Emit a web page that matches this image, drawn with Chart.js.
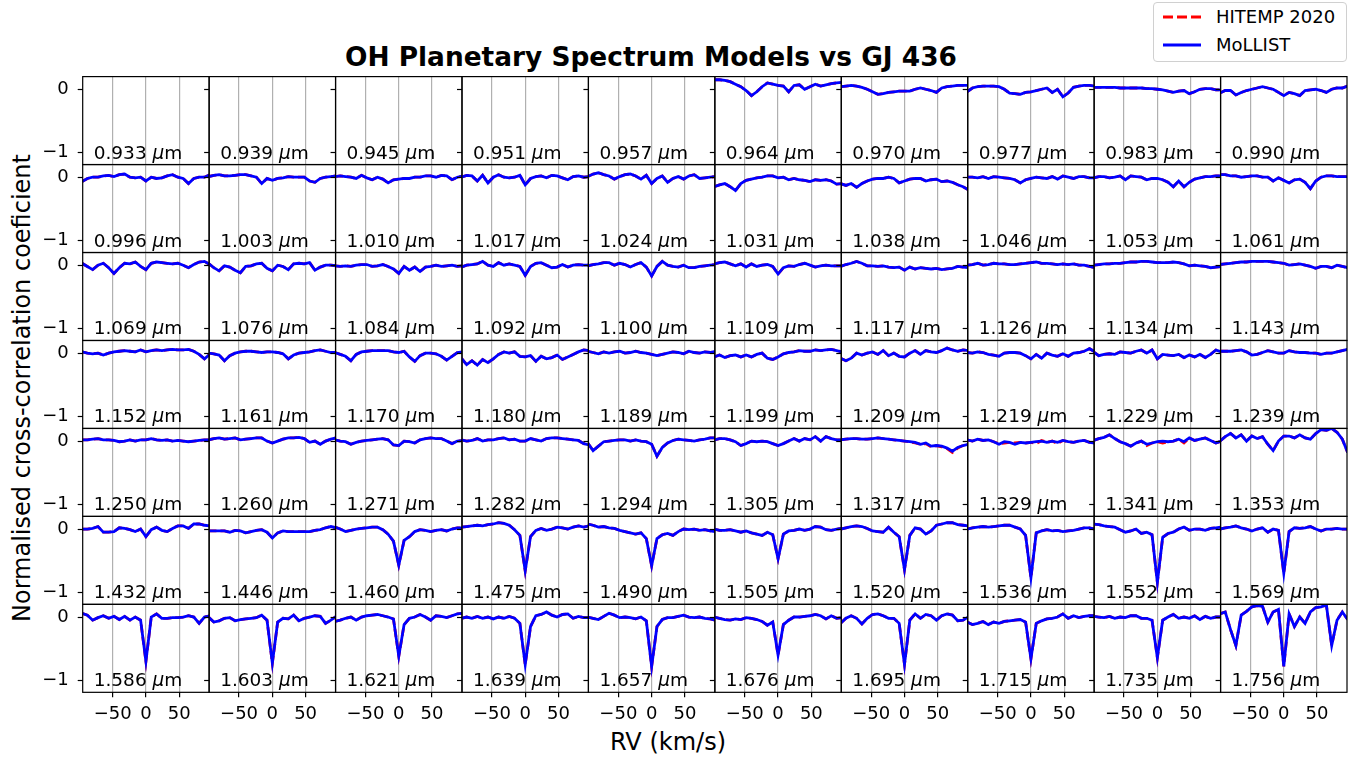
<!DOCTYPE html>
<html>
<head>
<meta charset="utf-8">
<script src="https://cdn.jsdelivr.net/npm/chart.js@4.4.0/dist/chart.umd.min.js"></script>
<style>
body { margin: 0; width: 1355px; height: 757px; background: #fff; position: relative; overflow: hidden; font-family: "DejaVu Sans", sans-serif; color: #000; }
canvas { position: absolute; }
#title { position: absolute; left: 0; width: 1302px; top: 43px; text-align: center; font-weight: bold; font-size: 26.4px; line-height: 28px; }
#ylab { position: absolute; left: 22px; top: 388px; transform: translate(-50%, -50%) rotate(-90deg); font-size: 24px; white-space: nowrap; }
#xlab { position: absolute; left: 668px; top: 742px; transform: translate(-50%, -50%); font-size: 24px; white-space: nowrap; }
#legend { position: absolute; left: 1153px; top: 2px; width: 192px; height: 58px; border: 1px solid #d0d0d0; border-radius: 4px; background: rgba(255,255,255,0.8); font-size: 18px; }
.item { position: absolute; left: 62px; white-space: nowrap; line-height: 20px; }
.swatch { position: absolute; left: 8px; }
</style>
</head>
<body>
<div id="title">OH Planetary Spectrum Models vs GJ 436</div>
<div id="ylab">Normalised cross-correlation coeficient</div>
<div id="xlab">RV (km/s)</div>
<div id="legend">
  <svg class="swatch" style="top:10px" width="40" height="8"><line x1="1" y1="4" x2="39" y2="4" stroke="#ff0000" stroke-width="2.8" stroke-dasharray="10,4"/></svg>
  <div class="item" style="top:4px;">HITEMP 2020</div>
  <svg class="swatch" style="top:38px" width="40" height="8"><line x1="1" y1="4" x2="39" y2="4" stroke="#0000ff" stroke-width="2.8"/></svg>
  <div class="item" style="top:32px;">MoLLIST</div>
</div>
<script>
// --- DATA ---
const rv = [-96,-88,-80,-72,-64,-56,-48,-40,-32,-24,-16,-8,0,8,16,24,32,40,48,56,64,72,80,88,96];
const xTicks = [-50, 0, 50];
const yTicks = [-1, 0];

const wavelengths = [
  '0.933','0.939','0.945','0.951','0.957','0.964','0.970','0.977','0.983','0.990',
  '0.996','1.003','1.010','1.017','1.024','1.031','1.038','1.046','1.053','1.061',
  '1.069','1.076','1.084','1.092','1.100','1.109','1.117','1.126','1.134','1.143',
  '1.152','1.161','1.170','1.180','1.189','1.199','1.209','1.219','1.229','1.239',
  '1.250','1.260','1.271','1.282','1.294','1.305','1.317','1.329','1.341','1.353',
  '1.432','1.446','1.460','1.475','1.490','1.505','1.520','1.536','1.552','1.569',
  '1.586','1.603','1.621','1.639','1.657','1.676','1.695','1.715','1.735','1.756'
];

// MoLLIST cross-correlation, one array per panel (null = no data in that band)
const mollist = [
  null, null, null, null, null,
  [0.15,0.15,0.14,0.12,0.08,0.04,-0.02,-0.10,-0.04,0.04,0.10,0.08,0.06,0.05,-0.04,0.06,0.07,0.00,0.04,0.08,0.05,0.07,0.09,0.10,0.11],
  [0.04,0.05,0.06,0.05,0.03,0.00,-0.04,-0.08,-0.07,-0.05,-0.04,-0.03,-0.03,-0.03,0.00,0.02,0.00,-0.02,-0.05,0.02,0.04,0.05,0.06,0.06,0.06],
  [-0.04,0.02,0.04,0.05,0.05,0.05,0.04,0.00,-0.06,-0.07,-0.08,-0.05,-0.04,-0.02,0.00,0.02,-0.05,0.00,-0.12,-0.06,0.03,0.05,0.06,0.06,0.05],
  [0.03,0.03,0.03,0.03,0.03,0.02,0.02,0.02,0.02,0.02,0.01,0.01,0.00,-0.01,-0.03,-0.05,-0.03,-0.02,-0.07,-0.04,0.00,0.01,0.01,-0.01,-0.01],
  [-0.06,-0.02,-0.02,-0.09,-0.05,-0.02,0.00,0.02,0.04,0.02,0.00,-0.05,-0.10,-0.05,-0.07,-0.10,-0.02,-0.01,0.00,-0.02,-0.05,0.00,0.02,0.02,0.05],

  [-0.07,-0.02,0.00,0.00,0.02,0.03,0.01,0.04,0.05,0.00,-0.01,0.00,-0.06,0.00,-0.02,-0.01,0.02,0.04,0.00,-0.02,-0.10,-0.02,0.00,0.00,0.04],
  [0.01,0.03,0.04,0.02,0.02,0.03,0.04,0.04,0.02,0.00,-0.10,-0.02,-0.05,-0.02,-0.01,0.01,0.00,0.00,0.00,-0.06,-0.08,-0.02,0.00,0.01,0.02],
  [0.01,0.02,0.01,0.00,-0.02,0.03,-0.01,-0.04,0.00,-0.03,-0.09,-0.04,-0.03,-0.02,-0.02,0.00,0.00,0.02,0.02,0.00,0.03,0.02,-0.04,0.00,0.02],
  [0.00,0.03,0.02,-0.06,0.03,-0.09,0.00,0.04,0.00,-0.01,0.00,0.03,-0.12,-0.02,0.01,0.02,-0.01,0.03,0.02,-0.01,-0.04,0.01,0.02,0.00,0.01],
  [0.01,0.05,0.07,0.04,0.02,-0.03,0.01,0.04,0.05,0.02,-0.03,0.03,-0.10,-0.02,0.02,-0.08,-0.02,0.01,-0.03,0.02,0.04,-0.02,-0.01,0.00,0.01],
  [-0.15,-0.12,-0.10,-0.15,-0.21,-0.10,-0.05,-0.03,-0.01,0.00,0.02,0.02,-0.01,0.00,-0.04,-0.02,-0.04,-0.05,-0.07,-0.04,-0.05,-0.04,-0.06,-0.11,-0.10],
  [-0.10,-0.13,-0.10,-0.16,-0.10,-0.06,-0.03,-0.02,-0.02,0.00,-0.02,-0.09,-0.06,-0.03,-0.02,-0.02,-0.06,-0.04,-0.03,-0.07,-0.06,-0.08,-0.12,-0.15,-0.20],
  [0.00,0.00,-0.01,0.01,-0.02,0.01,0.00,-0.01,-0.02,-0.04,-0.09,-0.04,-0.02,0.00,-0.01,-0.02,0.01,-0.03,0.02,0.00,-0.02,0.01,0.01,-0.01,-0.01],
  [-0.01,0.01,0.01,-0.01,0.00,0.02,-0.04,0.02,0.01,0.00,-0.04,-0.02,-0.02,-0.04,-0.08,-0.15,-0.06,-0.15,-0.08,-0.03,-0.01,0.01,0.01,0.02,0.02],
  [0.04,0.04,0.02,0.02,0.00,0.01,0.02,0.02,0.00,0.00,-0.06,-0.01,-0.05,-0.09,-0.04,-0.03,-0.08,-0.18,-0.06,0.00,0.02,0.02,0.01,0.01,0.01],

  [0.03,-0.02,-0.07,0.00,0.03,-0.04,-0.13,-0.04,0.03,0.02,0.05,-0.02,-0.07,0.03,0.05,0.04,0.03,0.02,0.03,0.00,-0.04,0.01,0.05,0.06,0.01],
  [0.03,-0.04,-0.09,-0.01,-0.03,-0.08,-0.12,-0.02,-0.01,0.02,0.03,-0.05,-0.09,0.00,-0.02,-0.07,0.02,0.03,0.02,0.04,-0.08,-0.03,0.00,0.00,-0.01],
  [-0.01,-0.02,-0.01,-0.02,0.00,0.01,0.01,-0.02,-0.01,0.01,-0.02,-0.06,-0.13,-0.02,-0.08,-0.03,-0.10,-0.03,-0.02,0.00,-0.02,-0.01,0.00,-0.02,-0.01],
  [-0.03,0.00,0.01,0.02,0.06,0.00,-0.02,0.04,0.00,0.02,0.00,-0.02,-0.16,-0.02,0.03,0.04,0.00,-0.04,-0.03,0.01,-0.03,0.00,0.01,0.00,0.00],
  [-0.01,0.01,0.02,0.04,0.04,0.00,0.03,0.01,-0.03,0.01,0.04,-0.03,-0.17,-0.02,0.06,0.00,-0.02,-0.03,0.00,-0.04,-0.04,-0.02,-0.01,0.00,0.01],
  [0.02,0.04,0.05,0.02,-0.01,0.02,-0.03,0.02,-0.02,0.00,0.01,-0.02,-0.14,-0.04,-0.01,-0.02,0.01,0.03,0.00,-0.03,-0.01,0.00,-0.01,-0.01,-0.01],
  [-0.02,0.01,0.03,0.06,0.03,-0.01,-0.01,-0.02,-0.01,-0.03,-0.04,-0.03,-0.08,-0.03,-0.06,-0.04,-0.05,-0.06,-0.05,-0.07,-0.06,-0.05,-0.02,-0.03,-0.04],
  [0.00,0.01,0.03,0.00,0.01,0.03,0.02,0.02,0.01,0.01,0.02,0.03,0.04,0.05,0.03,0.03,0.02,0.01,0.02,0.01,0.02,0.00,0.00,-0.02,-0.04],
  [0.00,0.01,0.02,0.02,0.03,0.03,0.04,0.05,0.05,0.06,0.06,0.05,0.04,0.04,0.04,0.05,0.04,0.02,-0.01,0.00,-0.01,-0.02,-0.04,-0.03,-0.02],
  [0.01,0.02,0.03,0.04,0.05,0.05,0.06,0.06,0.06,0.06,0.05,0.04,0.03,0.00,0.01,0.02,0.00,-0.02,-0.05,-0.02,-0.02,-0.04,0.00,-0.02,-0.04],

  [0.02,0.00,-0.01,0.00,-0.03,0.00,0.02,0.03,0.04,0.03,0.02,0.05,0.02,0.04,0.05,0.04,0.05,0.06,0.05,0.05,0.06,0.03,-0.02,-0.09,-0.02],
  [0.00,-0.01,-0.03,-0.12,-0.04,0.00,0.02,0.03,0.03,0.02,0.01,0.02,0.02,0.01,-0.01,-0.09,-0.03,0.00,0.01,0.02,0.04,0.05,0.03,0.01,0.01],
  [0.01,-0.02,-0.05,-0.12,-0.02,0.02,0.03,0.04,0.04,0.04,0.04,0.02,0.01,0.03,-0.06,-0.13,-0.04,0.00,0.00,-0.01,-0.05,-0.11,-0.05,0.01,0.02],
  [-0.08,-0.18,-0.12,-0.19,-0.10,-0.15,-0.09,-0.02,0.02,0.00,0.02,-0.05,-0.06,-0.04,-0.13,-0.05,-0.09,-0.07,-0.03,-0.10,-0.06,-0.02,0.02,0.05,0.04],
  [0.03,0.01,-0.01,0.02,0.00,0.02,0.03,0.00,0.01,0.03,0.01,0.00,-0.02,-0.04,-0.02,0.00,0.02,0.01,-0.01,0.03,0.01,0.00,0.02,0.01,0.03],
  [-0.06,-0.03,-0.07,-0.04,-0.03,-0.06,-0.03,-0.06,-0.02,0.00,-0.08,-0.10,-0.06,-0.01,0.01,0.02,0.04,0.03,0.03,0.05,0.04,0.05,0.06,0.04,0.02],
  [-0.08,-0.12,-0.08,0.00,-0.03,0.00,0.02,-0.02,0.04,-0.04,0.00,-0.05,-0.06,0.00,0.04,-0.02,0.04,0.02,0.01,0.04,0.08,0.05,0.03,0.05,0.04],
  [0.01,0.00,0.02,0.01,-0.02,-0.03,-0.05,0.00,0.01,0.01,0.00,-0.04,-0.09,-0.02,-0.08,0.00,-0.03,-0.05,-0.01,-0.05,0.00,0.01,0.03,0.07,0.02],
  [0.02,-0.04,-0.02,-0.01,-0.02,0.02,0.01,0.00,0.03,0.05,0.00,0.05,-0.09,-0.02,-0.03,-0.04,-0.02,-0.07,-0.03,-0.06,-0.02,-0.07,-0.02,0.05,0.02],
  [0.03,0.03,0.03,0.04,0.05,0.02,-0.03,-0.02,0.01,0.04,0.02,0.00,0.00,0.04,0.02,0.01,0.01,0.00,0.00,-0.02,0.00,0.00,0.02,0.04,0.06],

  [0.02,0.02,0.03,0.04,0.02,0.02,0.01,-0.01,0.00,0.02,0.00,0.02,0.02,0.04,0.02,0.01,0.02,0.00,0.01,0.00,-0.01,0.00,0.01,0.02,0.02],
  [0.02,0.04,0.05,0.03,0.04,0.05,0.02,0.03,0.04,0.05,0.05,0.00,-0.03,0.00,0.03,0.05,0.05,0.06,0.04,-0.02,0.00,-0.05,0.00,0.03,0.05],
  [0.02,0.00,-0.01,-0.05,-0.02,0.00,0.01,0.02,0.03,0.04,0.02,-0.06,-0.07,0.00,-0.01,-0.03,0.02,0.04,0.05,0.04,0.04,0.00,-0.04,0.00,0.01],
  [0.02,0.00,0.01,0.04,0.00,0.02,0.02,0.04,0.05,0.02,0.03,0.00,0.00,0.04,0.02,0.00,0.04,0.05,0.05,0.04,0.03,0.02,0.01,-0.04,-0.06],
  [-0.03,-0.15,-0.08,-0.01,0.00,0.01,0.02,0.02,0.00,0.02,0.00,-0.01,-0.05,-0.24,-0.10,-0.03,0.01,0.03,0.02,0.01,0.00,0.02,0.03,0.05,0.05],
  [0.02,0.04,0.04,0.02,-0.01,-0.07,-0.04,0.00,-0.01,0.00,-0.01,-0.04,-0.07,-0.04,0.00,0.04,0.00,0.04,0.02,0.07,0.00,0.07,0.04,0.02,0.02],
  [0.02,0.03,0.04,0.04,0.03,0.03,0.04,0.05,0.04,0.03,0.02,0.01,0.00,-0.01,-0.02,-0.05,-0.03,-0.08,-0.07,-0.08,-0.11,-0.16,-0.10,-0.07,-0.05],
  [0.02,0.00,0.03,0.01,0.02,-0.01,-0.05,-0.01,-0.02,-0.05,-0.02,-0.03,-0.02,-0.01,0.00,-0.02,0.00,-0.02,0.01,-0.01,-0.02,0.00,0.01,-0.02,-0.03],
  [0.01,0.04,0.06,0.10,0.04,-0.01,-0.04,-0.08,-0.03,0.00,-0.05,-0.03,-0.01,0.00,-0.01,0.00,0.03,-0.01,0.05,0.01,0.03,0.05,0.01,-0.03,0.00],
  [0.00,0.07,0.12,0.05,0.10,0.00,0.08,0.04,0.07,-0.05,-0.15,0.00,0.08,0.08,0.05,0.10,0.05,0.03,0.12,0.18,0.17,0.20,0.14,0.03,-0.18],

  [0.00,0.00,0.01,0.04,-0.05,-0.05,-0.04,0.02,0.01,-0.01,-0.04,0.00,-0.12,-0.01,0.03,-0.02,-0.04,0.01,0.05,0.05,0.01,0.08,0.08,0.06,0.05],
  [-0.03,-0.03,-0.03,-0.03,-0.05,-0.02,-0.03,-0.06,-0.04,-0.02,-0.01,-0.05,-0.14,-0.06,-0.03,-0.04,-0.04,-0.04,-0.04,-0.04,-0.02,-0.01,0.02,0.04,0.02],
  [0.03,0.00,-0.04,-0.02,0.00,0.01,0.02,0.03,0.03,-0.01,-0.08,-0.19,-0.57,-0.18,-0.12,-0.04,-0.01,-0.02,-0.04,-0.02,-0.01,-0.03,0.00,0.02,0.02],
  [0.03,0.04,0.05,0.06,0.05,0.07,0.08,0.10,0.09,0.06,-0.01,-0.10,-0.66,-0.12,-0.02,0.01,-0.02,0.00,0.03,0.02,0.00,0.03,0.05,0.03,0.05],
  [0.08,0.06,0.03,0.04,0.02,0.01,-0.02,-0.04,-0.06,-0.08,-0.06,-0.15,-0.58,-0.15,-0.09,-0.07,-0.10,-0.04,0.00,-0.01,0.00,-0.02,-0.01,-0.03,-0.04],
  [0.00,-0.02,-0.02,-0.01,-0.03,-0.05,-0.03,-0.06,-0.08,-0.10,-0.05,-0.09,-0.47,-0.08,-0.03,-0.02,0.00,-0.02,0.00,0.04,0.03,-0.01,-0.02,0.00,0.01],
  [0.00,0.02,0.04,0.05,0.04,0.01,-0.03,-0.04,-0.05,0.03,-0.05,-0.12,-0.64,-0.10,0.02,0.00,-0.08,-0.03,0.06,0.08,0.10,0.10,0.07,0.06,0.05],
  [0.00,0.02,0.03,0.04,0.03,0.04,0.05,0.06,0.06,0.03,0.00,-0.10,-0.77,-0.06,-0.03,-0.01,-0.03,-0.02,-0.04,-0.03,-0.02,0.00,0.02,0.02,0.00],
  [0.08,0.07,0.05,0.04,0.03,-0.01,-0.05,-0.03,0.00,-0.07,-0.05,-0.09,-0.84,-0.13,-0.07,-0.05,0.00,0.03,-0.02,0.00,0.00,-0.02,0.01,0.02,0.03],
  [0.00,0.02,0.03,0.05,0.02,0.00,-0.03,0.00,0.02,-0.05,0.00,-0.02,-0.70,-0.04,0.02,0.01,0.02,0.04,0.00,-0.03,0.00,0.00,0.01,0.00,0.00],

  [0.06,0.03,-0.05,-0.01,0.02,-0.02,0.01,-0.04,0.01,-0.05,0.00,-0.05,-0.70,0.00,0.05,-0.02,-0.02,-0.01,-0.01,0.00,0.02,0.00,-0.10,0.00,0.02],
  [0.00,-0.08,-0.06,-0.02,-0.01,-0.06,-0.04,-0.03,-0.02,-0.01,0.03,-0.05,-0.73,-0.08,-0.02,-0.03,0.03,-0.06,-0.02,0.00,0.02,0.01,-0.10,-0.05,0.01],
  [-0.07,-0.05,-0.02,0.00,-0.05,0.00,0.02,0.03,0.04,0.02,0.00,-0.03,-0.62,-0.12,-0.02,0.00,0.04,0.00,-0.05,0.02,0.01,-0.01,0.02,0.05,0.06],
  [-0.02,0.00,-0.02,0.01,-0.02,0.00,-0.03,0.00,-0.02,0.01,-0.02,-0.10,-0.75,-0.15,0.02,0.04,0.08,0.03,0.00,0.04,0.05,-0.02,0.01,-0.01,-0.01],
  [0.00,-0.02,-0.04,0.01,0.06,0.03,-0.01,0.00,-0.01,-0.03,0.00,-0.06,-0.78,-0.15,-0.04,-0.01,-0.01,0.01,0.03,0.00,-0.01,0.00,-0.02,-0.03,-0.05],
  [0.00,-0.02,-0.04,-0.05,-0.03,-0.04,-0.01,-0.02,-0.04,-0.07,-0.13,-0.08,-0.60,-0.12,-0.05,0.00,0.00,0.01,0.02,0.04,0.02,-0.03,0.02,-0.02,-0.01],
  [-0.10,-0.02,0.02,-0.02,-0.11,-0.02,0.04,0.05,0.02,-0.02,-0.02,-0.10,-0.75,-0.05,0.05,-0.02,0.04,0.02,-0.05,0.02,0.05,0.03,-0.06,-0.05,0.00],
  [-0.08,-0.12,-0.10,-0.07,-0.12,-0.08,-0.10,-0.07,-0.06,-0.05,-0.04,-0.08,-0.66,-0.10,-0.06,-0.03,-0.02,0.00,0.05,-0.02,0.02,-0.01,0.01,0.02,0.02],
  [0.01,0.00,-0.01,0.01,-0.02,0.00,-0.01,0.02,0.02,-0.02,-0.02,-0.05,-0.64,-0.05,0.00,0.04,-0.02,0.00,-0.02,0.02,-0.04,0.01,-0.02,0.00,0.00],
  [0.05,0.08,-0.20,-0.45,0.03,0.09,0.16,0.18,0.17,-0.08,0.08,0.12,-0.78,0.05,-0.15,0.00,-0.10,0.08,0.15,0.16,0.19,-0.45,-0.05,0.08,-0.04]
];

// HITEMP 2020 lies on top of MoLLIST except in a few bands where it visibly differs
const hitempDiffers = {
  46: [0.02,0.03,0.04,0.04,0.03,0.03,0.04,0.05,0.04,0.03,0.02,0.01,0.00,-0.01,-0.03,-0.05,-0.04,-0.09,-0.07,-0.09,-0.12,-0.18,-0.11,-0.07,-0.05],
  47: [0.02,0.00,0.03,0.01,0.02,-0.01,-0.04,-0.03,-0.02,-0.03,-0.02,-0.03,-0.02,-0.04,0.01,-0.02,0.00,-0.04,0.01,-0.01,-0.02,0.00,0.01,-0.02,-0.03],
  48: [0.01,0.04,0.06,0.10,0.04,-0.01,-0.04,-0.08,-0.03,0.00,-0.07,-0.03,-0.01,-0.03,-0.01,0.00,0.03,-0.03,0.05,0.01,0.03,0.05,0.01,-0.03,0.00]
};

// --- LAYOUT ---
const NCOL = 10, NROW = 7;
const GRID_LEFT = 82.7, GRID_TOP = 76.6, PANEL_W = 126.43, PANEL_H = 87.96;
const X_MIN = -95, X_MAX = 95, Y_MIN = -1.19, Y_MAX = 0.2;
const FONT = 'DejaVu Sans';

const minus = v => String(v).replace('-', '\u2212');

// frame + wavelength label for each panel
const panelFrame = {
  id: 'panelFrame',
  afterDraw(chart, args, opts) {
    const { ctx, chartArea: a } = chart;
    ctx.save();
    ctx.fillStyle = '#000';
    ctx.textBaseline = 'alphabetic';
    let x = a.left + 11;
    const y = a.bottom - 6;
    ctx.font = '18.5px "' + FONT + '"';
    ctx.fillText(opts.label + ' ', x, y);
    x += ctx.measureText(opts.label + ' ').width;
    ctx.font = 'italic 18.5px "' + FONT + '"';
    ctx.fillText('\u03bc', x, y);
    x += ctx.measureText('\u03bc').width;
    ctx.font = '18.5px "' + FONT + '"';
    ctx.fillText('m', x, y);
    ctx.strokeStyle = '#000';
    ctx.lineWidth = 1.2;
    ctx.strokeRect(a.left, a.top, a.right - a.left, a.bottom - a.top);
    ctx.restore();
  }
};

function makePanel(i) {
  const r = Math.floor(i / NCOL), c = i % NCOL;
  const L = GRID_LEFT + c * PANEL_W, T = GRID_TOP + r * PANEL_H;
  const R = L + PANEL_W, B = T + PANEL_H;
  // generous margins so label overhang never moves the plot area
  const cl = Math.floor(L) - 70, ct = Math.floor(T) - 30;
  const cr = Math.ceil(R) + 10, cb = Math.ceil(B) + 40;
  const yW = L - cl, padTop = T - ct, padRight = cr - R, xH = cb - B;
  const firstCol = c === 0, lastRow = r === NROW - 1;

  const cv = document.createElement('canvas');
  cv.width = cr - cl; cv.height = cb - ct;
  cv.style.left = cl + 'px'; cv.style.top = ct + 'px';
  cv.style.width = (cr - cl) + 'px'; cv.style.height = (cb - ct) + 'px';
  document.body.appendChild(cv);

  const mol = mollist[i];
  const hit = hitempDiffers[i] || mol;
  const pts = v => v ? rv.map((x, j) => ({ x: x, y: v[j] })) : [];

  new Chart(cv.getContext('2d'), {
    type: 'line',
    data: {
      datasets: [
        { label: 'MoLLIST', data: pts(mol), borderColor: '#0000ff', borderWidth: 2.8, pointRadius: 0, tension: 0, clip: 0, order: 1 },
        { label: 'HITEMP 2020', data: pts(hit), borderColor: '#ff0000', borderWidth: 2.8, borderDash: [8, 4], pointRadius: 0, tension: 0, clip: 0, order: 2 }
      ]
    },
    options: {
      responsive: false, animation: false, devicePixelRatio: 1,
      layout: { padding: { top: padTop, right: padRight, left: 0, bottom: 0 } },
      plugins: { legend: { display: false }, tooltip: { enabled: false }, panelFrame: { label: wavelengths[i] } },
      scales: {
        x: {
          type: 'linear', min: X_MIN, max: X_MAX,
          afterBuildTicks: s => { s.ticks = xTicks.map(v => ({ value: v })); },
          afterFit: s => { s.height = xH; },
          border: { display: false },
          grid: { color: '#b0b0b0', lineWidth: 1.2, drawTicks: lastRow, tickLength: 5, tickColor: '#000', tickWidth: 1.2 },
          ticks: { display: lastRow, color: '#000', font: { family: FONT, size: 18 }, padding: 6, maxRotation: 0, callback: v => minus(v) }
        },
        y: {
          min: Y_MIN, max: Y_MAX,
          afterBuildTicks: s => { s.ticks = yTicks.map(v => ({ value: v })); },
          afterFit: s => { s.width = yW; },
          border: { display: false },
          grid: { drawOnChartArea: false, drawTicks: true, tickLength: 5, tickColor: '#000', tickWidth: 1.2 },
          ticks: { display: firstCol, color: '#000', font: { family: FONT, size: 18 }, padding: 9, callback: v => minus(v) }
        }
      }
    },
    plugins: [panelFrame]
  });
}

for (let i = 0; i < NCOL * NROW; i++) makePanel(i);
</script>
</body>
</html>
